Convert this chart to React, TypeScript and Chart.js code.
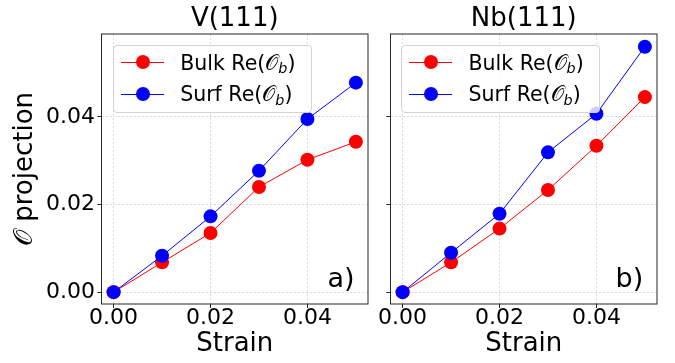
import React, { useEffect, useRef } from 'react';
import { Chart, registerables } from 'chart.js';

Chart.register(...registerables);

// ---- data ----
const strain = [0, 0.01, 0.02, 0.03, 0.04, 0.05];
const vBulk = [0, 0.0068, 0.0135, 0.024, 0.0302, 0.0343];
const vSurf = [0, 0.0083, 0.0173, 0.0277, 0.0395, 0.0478];
const nbBulk = [0, 0.0068, 0.0145, 0.0233, 0.0334, 0.0445];
const nbSurf = [0, 0.009, 0.0179, 0.0319, 0.0407, 0.056];
const xTicks = [0, 0.02, 0.04];
const yTicks = [0, 0.02, 0.04];
const panelTitles = ['V(111)', 'Nb(111)'];
const panelTags = ['a)', 'b)'];
const seriesNames = ['Bulk', 'Surf'];
const seriesColors = ['#ff0000', '#0000ff'];
const xLabel = 'Strain';
const yLabel = '\u{1D4AA} projection';

const FONT = "'DejaVu Sans', 'Noto Sans', sans-serif";

const framePlugin = {
  id: 'frame',
  afterDraw(chart: any) {
    const { ctx, chartArea: a } = chart;
    ctx.save();
    ctx.strokeStyle = '#262626';
    ctx.lineWidth = 1;
    ctx.strokeRect(a.left, a.top, a.right - a.left, a.bottom - a.top);
    ctx.restore();
  },
};

function makeConfig(title: string, bulk: number[], surf: number[], showY: boolean, yWidth: number, padRight: number): any {
  const toPts = (arr: number[]) => arr.map((v, i) => ({ x: strain[i], y: v }));
  const grid = {
    color: '#dadada',
    lineWidth: 1,
    tickColor: '#262626',
    tickLength: 4,
    tickWidth: 1,
    tickBorderDash: [],
  };
  return {
    type: 'line',
    data: {
      datasets: [
        {
          label: seriesNames[0],
          data: toPts(bulk),
          borderColor: seriesColors[0],
          backgroundColor: seriesColors[0],
          pointBackgroundColor: seriesColors[0],
          borderWidth: 1,
          pointRadius: 7,
          pointHoverRadius: 7,
          pointBorderWidth: 0,
          tension: 0,
          order: 2,
          clip: false,
        },
        {
          label: seriesNames[1],
          data: toPts(surf),
          borderColor: seriesColors[1],
          backgroundColor: seriesColors[1],
          pointBackgroundColor: seriesColors[1],
          borderWidth: 1,
          pointRadius: 7,
          pointHoverRadius: 7,
          pointBorderWidth: 0,
          tension: 0,
          order: 1,
          clip: false,
        },
      ],
    },
    options: {
      responsive: false,
      animation: false,
      layout: { padding: { left: 0, right: padRight, top: 0, bottom: 0 } },
      plugins: {
        legend: { display: false },
        tooltip: { enabled: false },
        title: {
          display: true,
          text: title,
          fullSize: false,
          color: '#000',
          font: { family: FONT, size: 26, weight: 'normal', lineHeight: 1 },
          padding: { top: 6.2, bottom: 1.8 },
        },
      },
      scales: {
        x: {
          type: 'linear',
          min: -0.0025,
          max: 0.0525,
          afterBuildTicks: (axis: any) => {
            axis.ticks = xTicks.map((v) => ({ value: v }));
          },
          afterFit: (axis: any) => {
            axis.height = 59;
          },
          ticks: {
            color: '#000',
            font: { family: FONT, size: 22, lineHeight: 1 },
            padding: -1,
            maxRotation: 0,
            autoSkip: false,
            callback: (v: any) => Number(v).toFixed(2),
          },
          grid,
          border: { display: false, dash: [2, 2] },
          title: {
            display: true,
            text: xLabel,
            color: '#000',
            font: { family: FONT, size: 26, lineHeight: 1 },
            padding: { top: 0, bottom: 5.5 },
          },
        },
        y: {
          type: 'linear',
          min: -0.0027,
          max: 0.0589,
          afterBuildTicks: (axis: any) => {
            axis.ticks = yTicks.map((v) => ({ value: v }));
          },
          afterFit: (axis: any) => {
            axis.width = yWidth;
          },
          ticks: {
            color: '#000',
            font: { family: FONT, size: 22, lineHeight: 1 },
            padding: 2.5,
            autoSkip: false,
            callback: (v: any) => (showY ? Number(v).toFixed(2) : ''),
          },
          grid,
          border: { display: false, dash: [2, 2] },
          title: {
            display: showY,
            text: yLabel,
            color: '#000',
            font: { family: FONT, size: 26, lineHeight: 1 },
            padding: { top: 12.5, bottom: 0 },
          },
        },
      },
    },
    plugins: [framePlugin],
  };
}

function Legend({ left, top }: { left: number; top: number }) {
  const rows = [0, 1];
  return (
    <div
      style={{
        position: 'absolute',
        left,
        top,
        width: 199,
        height: 68,
        boxSizing: 'border-box',
        border: '1px solid #d4d4d4',
        borderRadius: 4,
        background: 'rgba(255,255,255,0.8)',
      }}
    >
      {rows.map((i) => {
        const cy = (i === 0 ? 62.3 : 94) - top + 0;
        return (
          <React.Fragment key={i}>
            <div
              style={{
                position: 'absolute',
                left: 7,
                top: cy - 0.5 - 1,
                width: 43,
                height: 1,
                background: seriesColors[i],
              }}
            />
            <div
              style={{
                position: 'absolute',
                left: 29 - 7,
                top: cy - 7 - 1,
                width: 14,
                height: 14,
                borderRadius: '50%',
                background: seriesColors[i],
              }}
            />
            <div
              style={{
                position: 'absolute',
                left: 66.5,
                top: cy - 11.6 - 1,
                fontFamily: FONT,
                fontSize: 20.5,
                lineHeight: '24px',
                whiteSpace: 'nowrap',
                color: '#000',
              }}
            >
              {seriesNames[i]} Re({'\u{1D4AA}'}
              <span style={{ fontStyle: 'italic', fontSize: '0.7em', position: 'relative', top: '0.25em' }}>b</span>)
            </div>
          </React.Fragment>
        );
      })}
    </div>
  );
}

function Tag({ left, text }: { left: number; text: string }) {
  return (
    <div
      style={{
        position: 'absolute',
        left,
        top: 261.6,
        fontFamily: FONT,
        fontSize: 27,
        lineHeight: '32px',
        color: '#000',
        whiteSpace: 'nowrap',
      }}
    >
      {text}
    </div>
  );
}

export default function App() {
  const leftRef = useRef<HTMLCanvasElement>(null);
  const rightRef = useRef<HTMLCanvasElement>(null);

  useEffect(() => {
    const c1 = new Chart(leftRef.current as HTMLCanvasElement, makeConfig(panelTitles[0], vBulk, vSurf, true, 101.5, 12));
    const c2 = new Chart(rightRef.current as HTMLCanvasElement, makeConfig(panelTitles[1], nbBulk, nbSurf, false, 30.5, 18));
    return () => {
      c1.destroy();
      c2.destroy();
    };
  }, []);

  return (
    <div style={{ position: 'absolute', left: 0, top: 0, width: 675, height: 363, background: '#fff', overflow: 'hidden' }}>
      <canvas ref={leftRef} width={380} height={363} style={{ position: 'absolute', left: 0, top: 0, width: 380, height: 363 }} />
      <canvas ref={rightRef} width={315} height={363} style={{ position: 'absolute', left: 360, top: 0, width: 315, height: 363 }} />
      <Legend left={112.7} top={45} />
      <Legend left={401} top={45} />
      <Tag left={327.5} text={panelTags[0]} />
      <Tag left={615.6} text={panelTags[1]} />
    </div>
  );
}
